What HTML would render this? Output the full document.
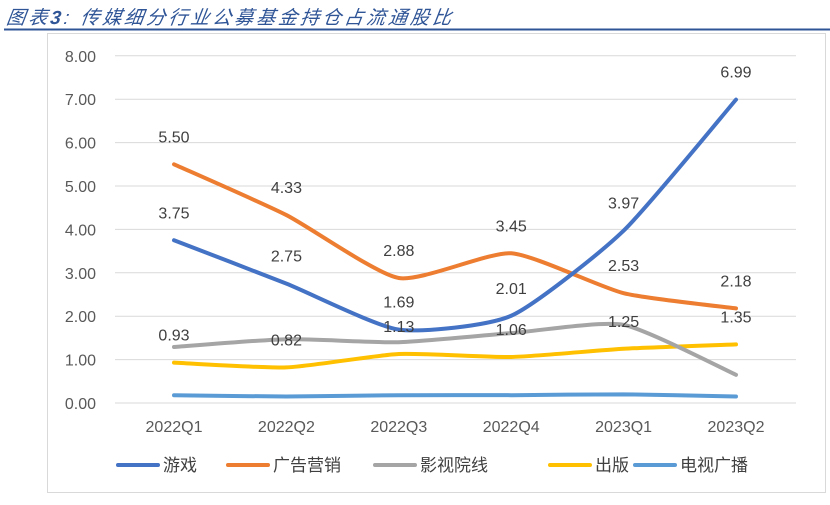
<!DOCTYPE html>
<html><head><meta charset="utf-8"><style>
body{margin:0;background:#fff;width:830px;height:500px;overflow:hidden;font-family:"Liberation Sans","Noto Sans CJK SC",sans-serif}
</style></head><body>
<svg width="830" height="500" xmlns="http://www.w3.org/2000/svg">
<text x="6" y="24" font-size="19" letter-spacing="3" fill="#2f5597" font-style="italic" font-family="'Liberation Sans','Noto Sans CJK SC',sans-serif" transform="skewX(-8) translate(3,0)">图表<tspan font-weight="bold">3</tspan>:  传媒细分行业公募基金持仓占流通股比</text>
<line x1="4" y1="29.5" x2="830" y2="29.5" stroke="#2f5597" stroke-width="2"/>
<rect x="47.5" y="33.5" width="778" height="459" fill="none" stroke="#d9d9d9"/>
<g id="grid"></g><g id="lines"></g><g id="labels"></g><g id="legend"></g>
</svg>
<script>
const categories=["2022Q1","2022Q2","2022Q3","2022Q4","2023Q1","2023Q2"];
const yTicks=[0,1,2,3,4,5,6,7,8];
const seriesNames=["游戏","广告营销","影视院线","出版","电视广播"];
const colors=["#4472c4","#ed7d31","#a5a5a5","#ffc000","#5b9bd5"];
const game=[3.75,2.75,1.69,2.01,3.97,6.99];
const ads=[5.50,4.33,2.88,3.45,2.53,2.18];
const cinema=[1.29,1.47,1.40,1.61,1.80,0.65];
const publish=[0.93,0.82,1.13,1.06,1.25,1.35];
const tv=[0.18,0.15,0.18,0.18,0.20,0.15];
const labeled=[true,true,false,true,false];
const allSeries=[game,ads,cinema,publish,tv];
const NS="http://www.w3.org/2000/svg";
const x=i=>174+i*112.4, y=v=>403-v*43.4;
function mk(t,a,p){const e=document.createElementNS(NS,t);for(const k in a)e.setAttribute(k,a[k]);p.appendChild(e);return e;}
const g=document.getElementById('grid');
yTicks.forEach(t=>{
 const l=mk('line',{x1:115,x2:796,y1:y(t),y2:y(t),stroke:'#d9d9d9','stroke-width':1},g);
 
 
 const tx=mk('text',{x:96,y:y(t)+6,'text-anchor':'end','font-size':16,fill:'#595959'},g);
 tx.textContent=t.toFixed(2);
 
 
});
categories.forEach((c,i)=>{
 const tx=mk('text',{x:x(i),y:432,'text-anchor':'middle','font-size':16,fill:'#595959'},g);
 tx.textContent=c;
 
 
});
function smooth(pts){let d=`M${pts[0][0]},${pts[0][1]}`;for(let i=0;i<pts.length-1;i++){const p0=pts[i-1]||pts[i],p1=pts[i],p2=pts[i+1],p3=pts[i+2]||p2;const t=1/10;d+=` C${p1[0]+(p2[0]-p0[0])*t},${p1[1]+(p2[1]-p0[1])*t} ${p2[0]-(p3[0]-p1[0])*t},${p2[1]-(p3[1]-p1[1])*t} ${p2[0]},${p2[1]}`;}return d;}
const L=document.getElementById('lines'),LB=document.getElementById('labels');
[4,3,2,1,0].forEach(s=>{
 const pts=allSeries[s].map((v,i)=>[x(i),y(v)]);
 const p=mk('path',{d:smooth(pts),fill:'none',stroke:colors[s],'stroke-width':4,'stroke-linecap':'round'},L);
 
 
 if(labeled[s])allSeries[s].forEach((v,i)=>{
  const tx=mk('text',{x:x(i),y:y(v)-22,'text-anchor':'middle','font-size':16,fill:'#404040'},LB);
  tx.textContent=v.toFixed(2);
  
  
 });
});
const lg=document.getElementById('legend');
const lx=[118,228,375,550,635];
seriesNames.forEach((n,i)=>{
 const l=mk('line',{x1:lx[i],x2:lx[i]+40,y1:465,y2:465,stroke:colors[i],'stroke-width':4,'stroke-linecap':'round'},lg);
 
 
 const t=mk('text',{x:lx[i]+45,y:471,'font-size':17,fill:'#404040'},lg);
 t.textContent=n;
 
 
});
</script>
</body></html>
